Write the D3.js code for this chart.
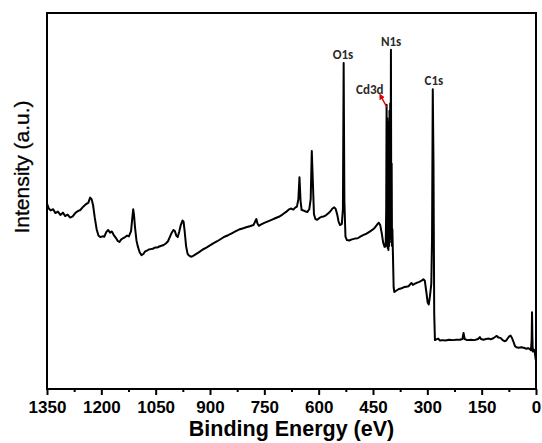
<!doctype html>
<meta charset="utf-8">
<script src="https://d3js.org/d3.v7.min.js"></script>
<style>
  body { margin: 0; background: #fff; }
  .tick text { font-family: "Liberation Sans", Arial, sans-serif; font-weight: bold; }
</style>
<body>
<svg width="542" height="443"></svg>
<script>
// binding energy (eV) and intensity (a.u., 0-100 of the plot height)
var energy = [1350, 1345, 1340, 1333, 1327, 1320, 1313, 1306, 1300, 1293, 1286, 1279, 1272, 1265, 1258, 1250, 1242, 1236, 1231, 1227,
  1223, 1218, 1213, 1208, 1203, 1197, 1192, 1186, 1181, 1176, 1171, 1166, 1160, 1155, 1150, 1145, 1140, 1134, 1129, 1124,
  1118, 1114, 1112, 1110, 1107, 1103, 1099, 1094, 1089, 1084, 1079, 1074, 1069, 1064, 1058, 1052, 1046, 1040, 1034, 1028,
  1022, 1016, 1011, 1006, 1001, 997, 993, 989, 985, 981, 976, 973, 970, 966, 962, 958, 953, 948, 940, 930,
  920, 910, 900, 890, 880, 870, 860, 850, 840, 830, 820, 810, 800, 790, 780, 775, 772, 769, 765, 760,
  750, 740, 730, 720, 710, 700, 690, 683, 677, 670, 664, 660, 656, 653, 650, 647, 642, 636, 631, 626,
  622, 619, 616, 613, 609, 604, 598, 592, 586, 580, 574, 568, 562, 557, 553, 549, 545, 541, 536, 533,
  531, 529, 526, 522, 516, 508, 500, 492, 484, 476, 468, 460, 452, 445, 438, 434, 430, 426, 422, 418,
  415, 413.5, 412.5, 411.5, 410.5, 409.5, 408.5, 407.5, 406.5, 405.5, 404.5, 403.5, 402.5, 401.5, 400.5, 399.5, 398.5, 397.5, 396.5, 395,
  393, 391, 385,
  378, 371, 364, 358, 352, 347, 344, 340, 334, 328, 322, 316, 311, 307, 303, 299, 296, 293, 289, 287,
  285, 283, 281, 279, 275, 270, 265, 258, 250, 240, 230, 220, 210, 203, 200, 197, 190, 180, 170, 160,
  155, 152, 145, 138, 130, 125, 118, 112, 108, 104, 98, 92, 87, 82, 78, 74, 70, 66, 62, 58,
  54, 48, 40, 32, 26, 22, 18, 14, 12, 11, 10, 9, 6, 3, 1, 0];
var intensity = [49.3, 48.0, 47.5, 47.8, 46.8, 47.2, 46.3, 46.9, 46.0, 46.4, 45.6, 45.9, 46.8, 47.3, 47.6, 48.5, 49.2, 49.5, 50.9, 50.5,
  49.0, 45.5, 42.5, 40.8, 40.4, 40.6, 40.5, 41.8, 42.3, 41.6, 41.9, 41.0, 40.2, 39.4, 39.1, 39.8, 40.1, 40.4, 40.8, 40.6,
  42.0, 46.0, 47.8, 46.5, 43.0, 39.5, 37.8, 36.3, 35.6, 35.9, 36.6, 36.8, 37.1, 37.2, 37.3, 37.6, 37.6, 37.9, 38.1, 38.3,
  38.7, 39.3, 40.4, 41.5, 42.3, 42.0, 40.8, 40.4, 41.8, 43.5, 44.8, 44.5, 42.0, 38.0, 36.0, 35.5, 35.2, 35.3, 35.8, 36.4,
  37.1, 37.6, 38.2, 38.8, 39.3, 39.9, 40.5, 40.9, 41.4, 41.9, 42.4, 42.7, 43.0, 43.3, 43.6, 44.6, 45.2, 44.0, 43.4, 43.7,
  44.2, 44.6, 45.0, 45.4, 45.8, 46.4, 47.1, 47.7, 48.0, 47.7, 48.3, 48.5, 50.5, 56.3, 50.0, 47.6, 47.5, 47.2, 47.1, 47.8,
  50.5, 63.3, 55.0, 46.5, 45.2, 45.0, 45.5, 45.8, 45.9, 46.2, 46.7, 47.2, 48.0, 48.3, 47.9, 46.5, 44.5, 43.6, 43.9, 48.0,
  86.7, 50.0, 40.5, 39.6, 39.5, 39.8, 40.0, 40.1, 40.6, 41.0, 41.3, 41.8, 42.3, 42.9, 43.8, 44.2, 43.6, 41.5, 39.0, 37.8,
  38.0, 48.0, 75.6, 38.5, 72.0, 37.5, 70.0, 37.0, 71.0, 38.0, 74.0, 39.0, 76.0, 40.0, 90.2, 41.0, 60.0, 38.0, 42.5, 36.0,
  27.0, 25.8, 26.2,
  26.6, 26.8, 27.1, 27.2, 27.3, 27.9, 28.2, 27.7, 28.0, 28.3, 28.5, 28.8, 29.2, 28.8, 26.0, 23.0, 22.5, 24.5, 28.0, 40.0,
  79.7, 60.0, 20.0, 13.0, 13.2, 13.4, 12.9, 13.0, 12.9, 13.1, 13.0, 13.1, 13.1, 13.3, 14.9, 13.3, 13.0, 13.1, 13.0, 13.3,
  13.8, 13.3, 13.1, 13.3, 13.4, 13.2, 13.5, 13.9, 14.1, 13.7, 13.6, 13.0, 12.7, 12.9, 13.5, 14.0, 14.2, 13.5, 12.5, 11.4,
  11.1, 11.0, 11.1, 10.9, 10.7, 10.9, 10.7, 10.3, 13.0, 20.4, 14.0, 10.0, 10.5, 9.5, 8.0, 7.6];

var xTicks = [1350, 1200, 1050, 900, 750, 600, 450, 300, 150, 0];
var minorTicks = [1275, 1125, 975, 825, 675, 525, 375, 225, 75];

// peak labels: text, energy, intensity where the text baseline sits
var peakNames = ["O1s", "N1s", "C1s", "Cd3d"];
var peakEnergy = [533, 400, 282, 412];
var peakLevel = [87.8, 91.2, 80.9, 78.5];

var svg = d3.select("svg");
var mLeft = 47, mRight = 536, mTop = 13, mBottom = 389;

var x = d3.scaleLinear().domain([1350, 0]).range([mLeft, mRight]);
var y = d3.scaleLinear().domain([0, 100]).range([mBottom, mTop]);

var data = energy.map(function (e, i) { return { e: e, v: intensity[i] }; });

// spectrum
var line = d3.line()
  .x(function (d) { return x(d.e); })
  .y(function (d) { return y(d.v); });

svg.append("path")
  .datum(data)
  .attr("d", line)
  .attr("fill", "none")
  .attr("stroke", "#000")
  .attr("stroke-width", 2)
  .attr("stroke-linejoin", "round");

// x axis with major and minor ticks
var xAxis = svg.append("g")
  .attr("transform", "translate(0," + mBottom + ")")
  .call(d3.axisBottom(x).tickValues(xTicks).tickSize(6).tickPadding(6).tickFormat(d3.format("d")));
xAxis.select(".domain").remove();
xAxis.selectAll(".tick line").attr("stroke-width", 2);
xAxis.selectAll(".tick text").attr("font-size", "17px").attr("fill", "#000");

svg.append("g")
  .attr("transform", "translate(0," + mBottom + ")")
  .call(d3.axisBottom(x).tickValues(minorTicks).tickSize(3).tickFormat(""))
  .call(function (g) { g.select(".domain").remove(); })
  .selectAll(".tick line").attr("stroke-width", 2);

// frame
svg.append("rect")
  .attr("x", mLeft)
  .attr("y", mTop)
  .attr("width", mRight - mLeft)
  .attr("height", mBottom - mTop)
  .attr("fill", "none")
  .attr("stroke", "#000")
  .attr("stroke-width", 2);

// axis titles
svg.append("text")
  .attr("x", (mLeft + mRight) / 2)
  .attr("y", 436)
  .attr("text-anchor", "middle")
  .attr("font-family", "Liberation Sans, Arial, sans-serif")
  .attr("font-weight", "bold")
  .attr("font-size", "21.5px")
  .text("Binding Energy (eV)");

svg.append("text")
  .attr("transform", "translate(29,167) rotate(-90)")
  .attr("text-anchor", "middle")
  .attr("font-family", "Liberation Sans, Arial, sans-serif")
  .attr("font-size", "21px")
  .attr("stroke", "#000")
  .attr("stroke-width", 0.3)
  .text("Intensity (a.u.)");

// peak labels
peakNames.forEach(function (name, i) {
  svg.append("text")
    .attr("x", x(peakEnergy[i]) + (name == "Cd3d" ? -17 : 0))
    .attr("y", y(peakLevel[i]))
    .attr("text-anchor", "middle")
    .attr("font-family", "Carlito, 'Liberation Sans Narrow', 'Liberation Sans', sans-serif")
    .attr("font-weight", "bold")
    .attr("font-size", "13px")
    .attr("fill", "#2a2a2a")
    .text(name);
});

// red arrow pointing at the Cd3d peak
svg.append("defs").append("marker")
  .attr("id", "arrow")
  .attr("viewBox", "0 0 10 10")
  .attr("refX", 5).attr("refY", 5)
  .attr("markerWidth", 4).attr("markerHeight", 4)
  .attr("orient", "auto")
  .append("path")
  .attr("d", "M0,0 L10,5 L0,10 z")
  .attr("fill", "#e00000");

svg.append("line")
  .attr("x1", x(412)).attr("y1", y(75.0))
  .attr("x2", x(412) - 6).attr("y2", y(77.9))
  .attr("stroke", "#e00000")
  .attr("stroke-width", 1.5)
  .attr("marker-end", "url(#arrow)");
</script>
</body>
